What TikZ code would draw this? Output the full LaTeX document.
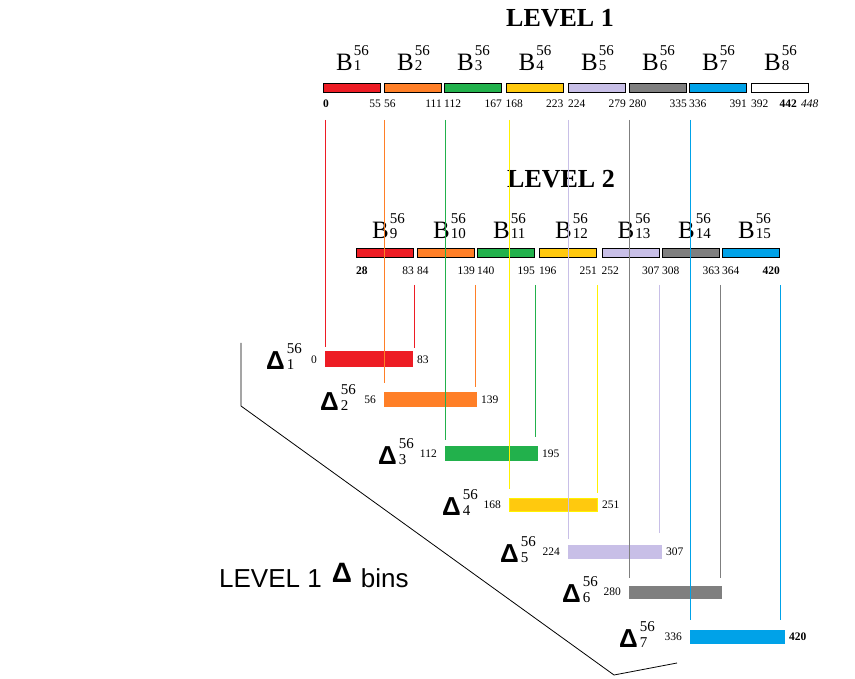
\documentclass[tikz,border=0pt]{standalone}
\usepackage{fontspec}
\setmainfont{Liberation Serif}
\newfontfamily\sansfnt{Liberation Sans}

\definecolor{binred}{HTML}{ED1C24}
\definecolor{binorange}{HTML}{FF7F27}
\definecolor{bingreen}{HTML}{22B14C}
\definecolor{binyellow}{HTML}{FFC90E}
\definecolor{lineyellow}{HTML}{FFF200}
\definecolor{binlilac}{HTML}{C8BFE7}
\definecolor{bingray}{HTML}{7F7F7F}
\definecolor{binblue}{HTML}{00A2E8}

\newcommand{\smallfnt}{\fontsize{15}{15}\selectfont}
\newcommand{\binname}[1]{{\fontsize{25}{25}\selectfont B}\kern1pt\rlap{\raisebox{15pt}{\smallfnt 56}}{\smallfnt #1}}
\newcommand{\deltaname}[1]{{\sansfnt\bfseries\fontsize{26}{26}\selectfont Δ}\kern2pt\rlap{\raisebox{16pt}{\smallfnt 56}}{\smallfnt #1}}

\tikzstyle{binbar} = [draw=black, line width=1pt, rectangle, inner sep=0pt,
    minimum width=57pt, minimum height=9pt, anchor=north west]
\tikzstyle{deltabar} = [rectangle, inner sep=0pt, outer sep=0pt,
    line width=0.6pt, anchor=north west]
\tikzstyle{num} = [inner sep=0pt, font=\fontsize{11.5}{11.5}\selectfont]
\tikzstyle{title} = [inner sep=0pt, anchor=base, font=\bfseries\fontsize{26}{26}\selectfont]
\tikzstyle{guide} = [line width=1pt]

\begin{document}
\begin{tikzpicture}[x=1pt, y=-1pt]
\useasboundingbox (0,0) rectangle (855,679);
\coordinate (top1) at (0,120);
\coordinate (top2) at (0,285);
\coordinate (row1) at (0,108);
\coordinate (row2) at (0,275);

% level 1 bins
\node[title] (lv1) at (560,27) {LEVEL 1};
\foreach \i/\x/\c/\a/\b in {1/323/binred/\textbf{0}/55, 2/384/binorange/56/111,
    3/444/bingreen/112/167, 4/505.5/binyellow/168/223, 5/568/binlilac/224/279,
    6/629/bingray/280/335, 7/689/binblue/336/391, 8/751/white/392/}{
  \node[binbar, fill=\c] (b\i) at (\x,83) {};
  \node[anchor=base west, inner sep=0pt] at ([shift={(13,-12)}]b\i.north west) {\binname{\i}};
  \node[num, anchor=base west] at (b\i.south west |- row1) {\a};
  \node[num, anchor=base east] at (b\i.south east |- row1) {\b};
}
\node[num, anchor=base east] (maxa) at ([xshift=-12pt]b8.south east |- row1) {\textbf{442}};
\node[num, anchor=base west] (maxb) at ([xshift=4pt]maxa.base east) {\textit{448}};

% level 2 bins
\node[title] (lv2) at (561,188) {LEVEL 2};
\foreach \i/\x/\c/\a/\b in {9/356/binred/\textbf{28}/83, 10/417/binorange/84/139,
    11/477/bingreen/140/195, 12/539/binyellow/196/251, 13/601.5/binlilac/252/307,
    14/662/bingray/308/363, 15/722/binblue/364/\textbf{420}}{
  \node[binbar, fill=\c] (b\i) at (\x,248) {};
  \node[anchor=base west, inner sep=0pt] at ([shift={(16,-9)}]b\i.north west) {\binname{\i}};
  \node[num, anchor=base west] at (b\i.south west |- row2) {\a};
  \node[num, anchor=base east] at (b\i.south east |- row2) {\b};
}

% delta bins
\foreach \i/\j/\x/\y/\w/\h/\c/\l/\lx/\a/\b/\ga/\gb in {
    1/9/325/351/87/15/binred/binred/266/0/83/4/3,
    2/10/384/392/92/14/binorange/binorange/320/56/139/9/5,
    3/11/445/446/92/14/bingreen/bingreen/378/112/195/6/9,
    4/12/509/498/88/13/binyellow/lineyellow/442/168/251/9/5,
    5/13/568/545/93/13/binlilac/binlilac/500/224/307/6/12,
    6/14/629/586/92/12/bingray/bingray/562/280//8/8,
    7/15/690/630/94/13/binblue/binblue/619/336/\textbf{420}/10/10}{
  \node[deltabar, fill=\c, draw=\l, minimum width=\w pt, minimum height=\h pt] (d\i) at (\x,\y) {};
  \node[anchor=base west, inner sep=0pt] at (\lx,{\y+\h+4}) {\deltaname{\i}};
  \node[num, anchor=base east] at ([shift={(-8,-3)}]d\i.south west) {\a};
  \node[num, anchor=base west] at ([shift={(5,-3)}]d\i.south east) {\b};
  \draw[guide, \l] (d\i.north west |- top1) -- ([yshift=\ga pt]d\i.north west);
  \draw[guide, \l] (b\j.east |- top2) -- ([yshift=\gb pt]b\j.east |- d\i.north);
}

% bracket round the delta bins
\coordinate (k1) at (241,343);
\coordinate (k2) at (241,406);
\coordinate (k3) at (614,675);
\coordinate (k4) at (677,663);
\draw[line width=0.8pt] (k1) -- (k2) -- (k3) -- (k4);
\node[anchor=base west, inner sep=0pt, font=\sansfnt\fontsize{26}{26}\selectfont] (lvbins) at (219,587)
  {LEVEL 1\hspace{10pt}\raisebox{5pt}{\bfseries\fontsize{28}{28}\selectfont Δ}\hspace{9pt}bins};
\end{tikzpicture}
\end{document}
